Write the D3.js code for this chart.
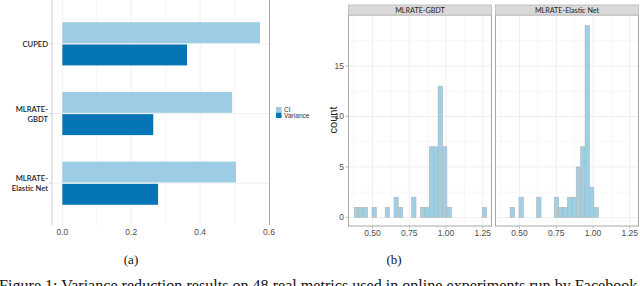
<!DOCTYPE html>
<html>
<head>
<meta charset="utf-8">
<script src="https://cdn.jsdelivr.net/npm/d3@7"></script>
<style>
  body { margin: 0; background: #fff; }
  svg { display: block; }
</style>
</head>
<body>
<div id="chart"></div>
<script>
// left panel data (a)
var methods = ["CUPED", "MLRATE-GBDT", "MLRATE-Elastic Net"]
var methodLines = [["CUPED"], ["MLRATE-", "GBDT"], ["MLRATE-", "Elastic Net"]]
var seriesNames = ["CI", "Variance"]
var ciValues = [0.574, 0.493, 0.504]
var varianceValues = [0.362, 0.264, 0.278]
var xTicksA = [0, 0.2, 0.4, 0.6]

// right panel data (b): histogram counts, 30 bins
var facets = ["MLRATE-GBDT", "MLRATE-Elastic Net"]
var binStart = 0.376
var binWidth = 0.03
var gbdtCounts = [1,1,1,0,1,0,0,1,0,2,1,0,0,2,0,1,1,7,7,13,7,1,0,0,0,0,0,0,0,1]
var enetCounts = [0,0,1,0,2,0,0,0,2,0,0,0,2,1,1,2,2,5,7,19,3,1,0,0,0,0,0,0,0,0]
var xTicksB = [0.5, 0.75, 1.0, 1.25]
var yTicksB = [0, 5, 10, 15]

var svgSize = { width: 640, height: 286 }

var colors = { CI: "#9dcde4", Variance: "#0575b6" }
var gridColor = "#efefef"
var tickText = "#4d4d4d"

var svg = d3.select("#chart").append("svg")
            .attr("width", svgSize.width)
            .attr("height", svgSize.height)

// ---------- (a) grouped horizontal bars ----------
var xA = d3.scaleLinear()
            .domain([-0.03, 0.6])
            .range([52, 269])

var yA = d3.scaleBand()
            .domain(methods)
            .range([2, 225])
            .paddingInner(0)
            .paddingOuter(0.1)

var step = yA.step()
var ySub = d3.scaleBand()
            .domain(seriesNames)
            .range([0.19 * step, 0.81 * step])
            .paddingInner(0.06)

var panelA = svg.append("g")

// grid, minor then major
d3.range(0.1, 0.6, 0.2).forEach(v => {
    panelA.append("line")
        .attr("x1", xA(v)).attr("x2", xA(v))
        .attr("y1", 0).attr("y2", 225)
        .attr("stroke", "#f6f6f6")
})
panelA.selectAll(".vgrid").data(xTicksA.slice(0, 3)).enter().append("line")
    .attr("x1", d => xA(d)).attr("x2", d => xA(d))
    .attr("y1", 0).attr("y2", 225)
    .attr("stroke", gridColor)
panelA.selectAll(".hgrid").data(methods).enter().append("line")
    .attr("x1", 52).attr("x2", 269)
    .attr("y1", d => yA(d) + step / 2).attr("y2", d => yA(d) + step / 2)
    .attr("stroke", gridColor)

var rows = methods.map((m, i) => ({ method: m, CI: ciValues[i], Variance: varianceValues[i] }))

panelA.selectAll(".grp").data(rows).enter().append("g")
    .attr("transform", d => `translate(0, ${yA(d.method)})`)
    .selectAll("rect").data(d => seriesNames.map(s => ({ s: s, v: d[s] })))
    .enter().append("rect")
    .attr("x", xA(0))
    .attr("y", d => ySub(d.s))
    .attr("width", d => xA(d.v) - xA(0))
    .attr("height", ySub.bandwidth())
    .attr("fill", d => colors[d.s])

// axis lines
panelA.append("line").attr("x1", 52).attr("x2", 52).attr("y1", 0).attr("y2", 225)
    .attr("stroke", "#d0d0d0")
panelA.append("line").attr("x1", 269.5).attr("x2", 269.5).attr("y1", 0).attr("y2", 225)
    .attr("stroke", "#a8a8a8")

// y tick marks and labels
methods.forEach((m, i) => {
    var cy = yA(m) + step / 2
    panelA.append("line").attr("x1", 49).attr("x2", 52).attr("y1", cy).attr("y2", cy)
        .attr("stroke", "#cfcfcf")
    var lines = methodLines[i]
    var t = panelA.append("text")
        .attr("text-anchor", "end")
        .attr("font-family", "Lato, 'Open Sans', sans-serif")
        .attr("font-size", 7.6)
        .attr("font-weight", 600)
        .attr("fill", "#222")
    lines.forEach((l, j) => {
        t.append("tspan")
            .attr("x", 48)
            .attr("y", cy + 3 + (j - (lines.length - 1) / 2) * 10)
            .text(l)
    })
})

// x labels
panelA.selectAll(".xlab").data(xTicksA).enter().append("text")
    .attr("x", d => xA(d))
    .attr("y", 234.5)
    .attr("text-anchor", "middle")
    .attr("font-family", "'Liberation Sans', Arial, sans-serif")
    .attr("font-size", 8.5)
    .attr("fill", tickText)
    .text(d => d3.format(".1f")(d))

// legend
var legend = svg.append("g").attr("transform", "translate(276, 107)")
seriesNames.forEach((s, i) => {
    legend.append("rect")
        .attr("x", 0).attr("y", i * 5.6)
        .attr("width", 5.6).attr("height", 5.4)
        .attr("fill", colors[s])
    legend.append("text")
        .attr("x", 8).attr("y", i * 5.8 + 5)
        .attr("font-family", "'Liberation Sans', Arial, sans-serif")
        .attr("font-size", 6.6)
        .attr("fill", "#333")
        .text(s)
})

// ---------- (b) faceted histograms ----------
var yB = d3.scaleLinear()
            .domain([-0.95, 19.95])
            .range([227, 16])

var panelRanges = [[348, 492], [495, 639]]
var countsByFacet = [gbdtCounts, enetCounts]
var panelTop = 15, panelBottom = 226

facets.forEach((name, f) => {
    var xB = d3.scaleLinear()
                .domain([0.333, 1.313])
                .range(panelRanges[f])
    var g = svg.append("g")
    var x0 = panelRanges[f][0], x1 = panelRanges[f][1]

    // grid
    d3.range(0.375, 1.3, 0.25).forEach(v => {
        g.append("line").attr("x1", xB(v)).attr("x2", xB(v))
            .attr("y1", panelTop).attr("y2", panelBottom).attr("stroke", "#f7f7f7")
    })
    d3.range(2.5, 19, 5).forEach(v => {
        g.append("line").attr("x1", x0).attr("x2", x1)
            .attr("y1", yB(v)).attr("y2", yB(v)).attr("stroke", "#f7f7f7")
    })
    g.selectAll(".vg").data(xTicksB).enter().append("line")
        .attr("x1", d => xB(d)).attr("x2", d => xB(d))
        .attr("y1", panelTop).attr("y2", panelBottom)
        .attr("stroke", gridColor)
    g.selectAll(".hg").data(yTicksB).enter().append("line")
        .attr("x1", x0).attr("x2", x1)
        .attr("y1", d => yB(d)).attr("y2", d => yB(d))
        .attr("stroke", gridColor)

    // bars
    var bins = countsByFacet[f].map((c, i) => ({ lo: binStart + i * binWidth, hi: binStart + (i + 1) * binWidth, count: c }))
    g.selectAll(".bar").data(bins).enter().append("rect")
        .attr("x", d => xB(d.lo))
        .attr("y", d => yB(d.count))
        .attr("width", d => xB(d.hi) - xB(d.lo))
        .attr("height", d => yB(0) - yB(d.count))
        .attr("fill", "#9dcfe6")
        .attr("stroke", "#b5b5b5")
        .attr("stroke-width", 0.6)

    // border
    g.append("rect")
        .attr("x", x0 + 0.5).attr("y", panelTop)
        .attr("width", x1 - x0 - 1).attr("height", panelBottom - panelTop)
        .attr("fill", "none").attr("stroke", "#a8a8a8")

    // strip
    g.append("rect")
        .attr("x", x0 + 0.5).attr("y", 5)
        .attr("width", x1 - x0 - 1).attr("height", 10)
        .attr("fill", "#d9d9d9").attr("stroke", "#b8b8b8").attr("stroke-width", 0.8)
    g.append("text")
        .attr("x", (x0 + x1) / 2).attr("y", 12.8)
        .attr("text-anchor", "middle")
        .attr("font-family", "Lato, 'Open Sans', sans-serif")
        .attr("font-size", 7.2)
        .attr("fill", "#222")
        .text(name)

    // x ticks
    g.selectAll(".xt").data(xTicksB).enter().append("line")
        .attr("x1", d => xB(d)).attr("x2", d => xB(d))
        .attr("y1", panelBottom).attr("y2", panelBottom + 2.5)
        .attr("stroke", "#bbb")
    g.selectAll(".xl").data(xTicksB).enter().append("text")
        .attr("x", d => xB(d)).attr("y", 235.5)
        .attr("text-anchor", "middle")
        .attr("font-family", "'Liberation Sans', Arial, sans-serif")
        .attr("font-size", 8.5)
        .attr("fill", tickText)
        .text(d => d3.format(".2f")(d))
})

// y axis of (b)
var yAxisB = svg.append("g")
yAxisB.selectAll("line").data(yTicksB).enter().append("line")
    .attr("x1", 345.5).attr("x2", 348)
    .attr("y1", d => yB(d)).attr("y2", d => yB(d))
    .attr("stroke", "#bbb")
yAxisB.selectAll("text").data(yTicksB).enter().append("text")
    .attr("x", 344).attr("y", d => yB(d) + 3)
    .attr("text-anchor", "end")
    .attr("font-family", "'Liberation Sans', Arial, sans-serif")
    .attr("font-size", 8.5)
    .attr("fill", tickText)
    .text(d => d)
svg.append("text")
    .attr("transform", "translate(337, 120) rotate(-90)")
    .attr("text-anchor", "middle")
    .attr("font-family", "'Liberation Sans', Arial, sans-serif")
    .attr("font-size", 11)
    .attr("fill", "#222")
    .text("count")

// captions
var serif = "'Liberation Serif', 'DejaVu Serif', serif"
svg.append("text").attr("x", 131).attr("y", 264).attr("text-anchor", "middle")
    .attr("font-family", serif).attr("font-size", 13).attr("fill", "#111").text("(a)")
svg.append("text").attr("x", 394).attr("y", 264).attr("text-anchor", "middle")
    .attr("font-family", serif).attr("font-size", 13).attr("fill", "#111").text("(b)")
svg.append("text").attr("x", -1).attr("y", 291)
    .attr("font-family", serif).attr("font-size", 16.1).attr("fill", "#111")
    .text("Figure 1: Variance reduction results on 48 real metrics used in online experiments run by Facebook")
</script>
</body>
</html>
